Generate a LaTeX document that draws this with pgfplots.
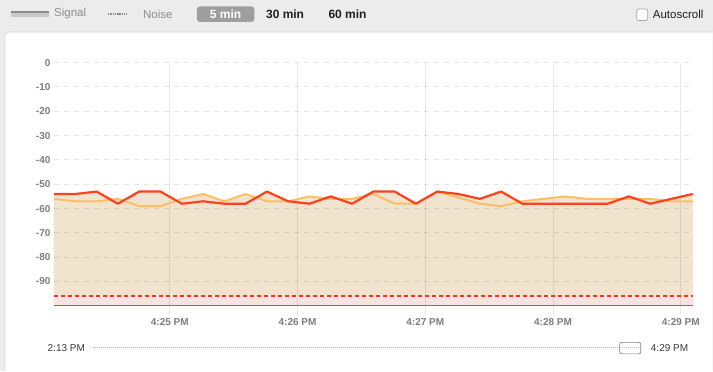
\documentclass[border=0pt]{standalone}
\usepackage{pgfplots}
\pgfplotsset{compat=1.18}
\usepackage{pgfplotstable}
\usepackage{fontspec}
\setmainfont{Liberation Sans}
\definecolor{bgc}{RGB}{236,236,236}
\definecolor{panelb}{RGB}{208,208,208}
\definecolor{redline}{RGB}{255,66,30}
\definecolor{orangeline}{RGB}{255,190,100}
\definecolor{beige}{RGB}{240,228,207}
\definecolor{pinkf}{RGB}{253,226,226}
\definecolor{bottomred}{RGB}{196,84,84}
\definecolor{noisered}{RGB}{255,52,30}
\definecolor{labelgray}{RGB}{125,125,125}
\definecolor{gridh}{RGB}{230,230,230}
\definecolor{hdrgray}{RGB}{140,140,140}
\definecolor{hdrlight}{RGB}{200,200,200}
\definecolor{btngray}{RGB}{158,158,158}
\definecolor{txtdark}{RGB}{30,30,30}
\definecolor{txtmid}{RGB}{60,60,60}
\definecolor{boxgray}{RGB}{165,165,165}
\definecolor{dotgray}{RGB}{175,175,175}
\definecolor{slidergray}{RGB}{130,130,130}
\definecolor{dotlight}{RGB}{190,190,190}
\pgfplotsset{
  layers/mylayers/.define layer set={bgpanel,axis background,axis grid,axis ticks,axis lines,axis tick labels,pre main,main,axis descriptions,axis foreground}{},
}
\pgfplotstableread{
i r o
0 -54 -56
1 -54 -57
2 -53 -57
3 -58 -56
4 -53 -59
5 -53 -59
6 -58 -56
7 -57 -54
8 -58 -57
9 -58 -54
10 -53 -57
11 -57 -57
12 -58 -55
13 -55 -56
14 -58 -56
15 -53 -54
16 -53 -58
17 -58 -58
18 -53 -53
19 -54 -55.5
20 -56 -58
21 -53 -59
22 -58 -57
23 -58 -56
24 -58 -55
25 -58 -56
26 -58 -56
27 -55 -56
28 -58 -56
29 -56 -57
30 -54 -57
}\sig
\begin{document}
\begin{tikzpicture}
\begin{axis}[
  at={(54pt,-306pt)}, anchor=south west,
  scale only axis, width=639pt, height=243.3pt,
  xmin=0, xmax=30, ymin=-100, ymax=0,
  set layers=mylayers,
  axis line style={draw=none},
  xtick={5.44,11.44,17.44,23.44,29.44},
  xticklabels={4:25 PM,4:26 PM,4:27 PM,4:28 PM,4:29 PM},
  ytick={-90,-80,-70,-60,-50,-40,-30,-20,-10,0},
  yticklabels={-90,-80,-70,-60,-50,-40,-30,-20,-10,0},
  xmajorgrids, ymajorgrids,
  x grid style={draw=black, draw opacity=0.09, line width=1pt},
  y grid style={draw=black, draw opacity=0.1, line width=1pt, dash pattern=on 5pt off 5pt},
  tick align=outside, major tick length=9pt,
  xtick style={draw=black, draw opacity=0.09, line width=1pt},
  ytick style={draw=none},
  xtick pos=bottom, ytick pos=left,
  ticklabel style={font=\fontsize{10}{12}\selectfont\bfseries, text=labelgray},
  yticklabel style={xshift=9pt},
  clip=false,
]
\addplot[fill=beige, draw=none, on layer=axis background] table[x=i,y=r] {\sig} -- (axis cs:30,-100) -- (axis cs:0,-100) -- cycle;
\addplot[fill=beige, draw=none, on layer=axis background] table[x=i,y=o] {\sig} -- (axis cs:30,-100) -- (axis cs:0,-100) -- cycle;
\addplot[fill=pinkf, draw=none, on layer=axis background] coordinates {(0,-100) (0,-96) (30,-96) (30,-100)} -- cycle;
\addplot[orangeline, line width=2pt, line join=round] table[x=i,y=o] {\sig};
\addplot[redline, line width=2.2pt, line join=round] table[x=i,y=r] {\sig};
\addplot[noisered, line width=2pt, dash pattern=on 4pt off 3pt] coordinates {(0,-96) (30,-96)};
\addplot[bottomred, line width=1.2pt] coordinates {(0,-100) (30,-100)};
\end{axis}
\begin{pgfonlayer}{bgpanel}
\fill[bgc] (0,0) rectangle (713pt,-371pt);
\fill[white] (713pt,-32pt) -- (9pt,-32pt) arc[start angle=90, end angle=180, radius=4pt] -- (5pt,-371pt) -- (713pt,-371pt) -- cycle;
\draw[panelb, line width=0.6pt] (713pt,-32pt) -- (9pt,-32pt) arc[start angle=90, end angle=180, radius=4pt] -- (5pt,-371pt);
% header
\fill[hdrgray] (11pt,-11pt) rectangle (49pt,-13.4pt);
\fill[hdrlight] (11pt,-13.4pt) rectangle (49pt,-16.6pt);
\node[anchor=west, inner sep=0pt, text=hdrgray, font=\fontsize{11.5}{13}\selectfont] at (54pt,-14pt) {Signal};
\draw[hdrgray, line width=1.3pt, dash pattern=on 1.4pt off 0.9pt] (108pt,-14pt) -- (127pt,-14pt);
\node[anchor=west, inner sep=0pt, text=hdrgray, font=\fontsize{11.5}{13}\selectfont] at (143pt,-14pt) {Noise};
\fill[btngray, rounded corners=3pt] (197pt,-6.5pt) rectangle (254.5pt,-22pt);
\node[inner sep=0pt, text=white, font=\fontsize{12}{14}\selectfont\bfseries] at (225.7pt,-14.3pt) {5 min};
\node[anchor=west, inner sep=0pt, text=txtdark, font=\fontsize{12}{14}\selectfont\bfseries] at (266pt,-14.3pt) {30 min};
\node[anchor=west, inner sep=0pt, text=txtdark, font=\fontsize{12}{14}\selectfont\bfseries] at (328.5pt,-14.3pt) {60 min};
\draw[boxgray, fill=white, rounded corners=2pt, line width=0.7pt] (637pt,-9pt) rectangle (648pt,-20.5pt);
\node[anchor=west, inner sep=0pt, text=txtdark, font=\fontsize{11.5}{13}\selectfont] at (653pt,-14.5pt) {Autoscroll};
% bottom range row
\node[anchor=west, inner sep=0pt, text=txtmid, font=\fontsize{10}{12}\selectfont] at (47.5pt,-348pt) {2:13 PM};
\draw[dotgray, line width=0.8pt, dash pattern=on 0.8pt off 1.2pt] (93pt,-348pt) -- (620pt,-348pt);
\draw[slidergray, fill=white, rounded corners=2pt, line width=0.7pt] (620pt,-342.5pt) rectangle (641pt,-354pt);
\draw[dotlight, line width=0.8pt, dash pattern=on 0.8pt off 1.2pt] (622pt,-348pt) -- (639pt,-348pt);
\node[anchor=west, inner sep=0pt, text=txtmid, font=\fontsize{10}{12}\selectfont] at (651pt,-348pt) {4:29 PM};
\end{pgfonlayer}
\end{tikzpicture}
\end{document}
